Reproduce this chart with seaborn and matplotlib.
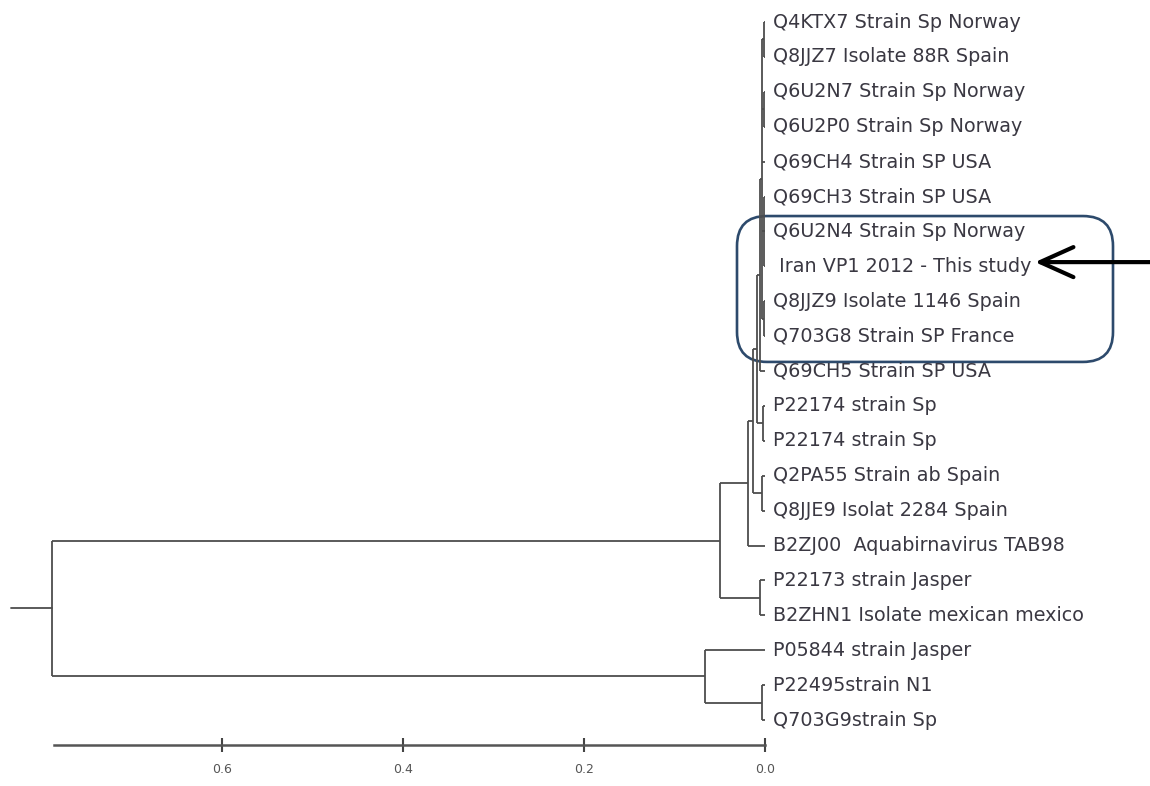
import matplotlib.pyplot as plt
import seaborn as sns
from matplotlib.patches import FancyBboxPatch

# leaves, top to bottom
leaf_names = [
    "Q4KTX7 Strain Sp Norway",
    "Q8JJZ7 Isolate 88R Spain",
    "Q6U2N7 Strain Sp Norway",
    "Q6U2P0 Strain Sp Norway",
    "Q69CH4 Strain SP USA",
    "Q69CH3 Strain SP USA",
    "Q6U2N4 Strain Sp Norway",
    " Iran VP1 2012 - This study",
    "Q8JJZ9 Isolate 1146 Spain",
    "Q703G8 Strain SP France",
    "Q69CH5 Strain SP USA",
    "P22174 strain Sp",
    "P22174 strain Sp",
    "Q2PA55 Strain ab Spain",
    "Q8JJE9 Isolat 2284 Spain",
    "B2ZJ00  Aquabirnavirus TAB98",
    "P22173 strain Jasper",
    "B2ZHN1 Isolate mexican mexico",
    "P05844 strain Jasper",
    "P22495strain N1",
    "Q703G9strain Sp",
]

# internal nodes -> children (ints are leaf indices)
children = {
    "root": ["A", "B"],
    "A": ["X", "A2"],
    "A2": [16, 17],
    "X": ["Y", 15],
    "Y": ["Z", "Y2"],
    "Y2": [13, 14],
    "Z": ["T", "Z2"],
    "Z2": [11, 12],
    "T": ["top", 10],
    "top": ["t1", "t2", 4, "t3", "t4"],
    "t1": [0, 1],
    "t2": [2, 3],
    "t3": [5, 6, 7],
    "t4": [8, 9],
    "B": [18, "B2"],
    "B2": [19, 20],
}

# node depth (0.0 = tips)
node_height = {
    "root": 0.788, "A": 0.050, "A2": 0.0055, "X": 0.019, "Y": 0.013,
    "Y2": 0.003, "Z": 0.009, "Z2": 0.002, "T": 0.005, "top": 0.003,
    "t1": 0.0012, "t2": 0.0006, "t3": 0.0012, "t4": 0.0008,
    "B": 0.066, "B2": 0.003,
}
root_stub = 0.833

scale_ticks = [0.0, 0.2, 0.4, 0.6]
scale_labels = ["0.0", "0.2", "0.4", "0.6"]
scale_length = 0.786

highlight_rows = [6, 9]
arrow_row = 7

# pixel scale of the picture
PX_X = 905.0
PX_Y = 34.9
line_col = "#4d4d4d"
text_col = "#3a3842"

sns.set_theme(style="white")
plt.rcParams["font.family"] = ["DejaVu Sans"]

fig = plt.figure(figsize=(11.5, 7.86), dpi=100)
ax = fig.add_axes([0, 0, 1, 1])
ax.set_xlim(765 / PX_X, (765 - 1150) / PX_X)
ax.set_ylim((786 - 22) / PX_Y, -22 / PX_Y)


def draw(node):
    # returns y of the node, draws branches below it
    if isinstance(node, int):
        return node, 0.0
    h = node_height[node]
    ys = []
    for ch in children[node]:
        y, ch_h = draw(ch)
        ax.plot([h, ch_h], [y, y], color=line_col, lw=1.3, solid_capstyle="butt")
        ys.append(y)
    ax.plot([h, h], [ys[0], ys[-1]], color=line_col, lw=1.3, solid_capstyle="butt")
    return (ys[0] + ys[-1]) / 2, h


root_y, root_h = draw("root")
ax.plot([root_stub, root_h], [root_y, root_y], color=line_col, lw=1.3)

for i, name in enumerate(leaf_names):
    ax.text(-8 / PX_X, i, name, fontsize=13.8, color=text_col, va="center", ha="left")

# highlight box around the Iran sequence group
x0 = (765 - 1113) / PX_X
x1 = (765 - 737) / PX_X
y0 = highlight_rows[0] - 0.44
y1 = highlight_rows[1] + 0.74
box = FancyBboxPatch((x0, y0), x1 - x0, y1 - y0,
                     boxstyle="round,pad=0,rounding_size=%f" % (30 / PX_X),
                     mutation_aspect=PX_X / PX_Y,
                     fc="none", ec="#2d4a6c", lw=1.9)
ax.add_patch(box)

ax.annotate("", xy=(-270 / PX_X, arrow_row - 0.12), xytext=(-390 / PX_X, arrow_row - 0.12),
            arrowprops=dict(arrowstyle="->,head_length=2.0,head_width=0.9",
                            lw=3, color="black", shrinkA=0, shrinkB=0))

# scale bar as the bottom spine
sns.despine(ax=ax, left=True, top=True, right=True)
ax.spines["bottom"].set_position(("data", (745 - 22) / PX_Y))
ax.spines["bottom"].set_bounds(0, scale_length)
ax.spines["bottom"].set_color("#555555")
ax.spines["bottom"].set_linewidth(1.8)
ax.set_xticks(scale_ticks)
ax.set_xticklabels(scale_labels)
ax.tick_params(axis="x", direction="inout", length=10, width=1.5, color="#444444",
               labelsize=9, labelcolor="#555555", pad=8, bottom=True)
ax.set_yticks([])
ax.grid(False)

fig.savefig("out.png", dpi=100)
